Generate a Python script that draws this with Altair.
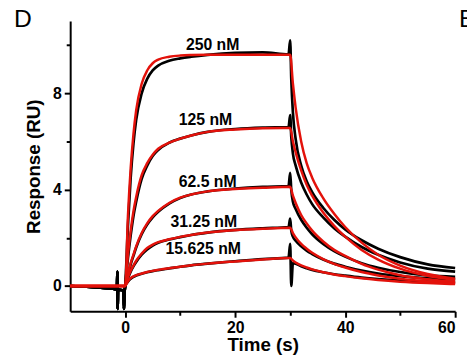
import altair as alt
import pandas as pd

# ---------------- data ----------------
CONC = ["250 nM", "125 nM", "62.5 nM", "31.25 nM", "15.625 nM"]

# fitted (red) curves
FIT_T = [-10, 0, 0.5, 1, 1.5, 2, 3, 4, 5, 6, 8, 10, 12, 15, 20, 25, 30,
         30.5, 31, 32, 33, 34, 36, 38, 40, 43, 46, 50, 55, 60]
FIT_250 = [0, 0, 2.9, 4.9, 6.3, 7.3, 8.4, 8.95, 9.25, 9.4, 9.52, 9.57, 9.59, 9.6, 9.6, 9.6, 9.6,
           8.4, 7.4, 6.0, 5.1, 4.5, 3.65, 3.0, 2.45, 1.8, 1.3, 0.85, 0.5, 0.3]
FIT_125 = [0, 0, 1.3, 2.3, 3.1, 3.7, 4.6, 5.1, 5.45, 5.7, 5.95, 6.12, 6.25, 6.4, 6.5, 6.55, 6.56,
           6.0, 5.55, 4.8, 4.2, 3.75, 3.05, 2.5, 2.05, 1.5, 1.1, 0.72, 0.42, 0.25]
FIT_62 = [0, 0, 0.5, 0.95, 1.3, 1.65, 2.2, 2.6, 2.9, 3.12, 3.45, 3.67, 3.8, 3.93, 4.03, 4.08, 4.12,
          3.75, 3.45, 2.95, 2.6, 2.3, 1.85, 1.5, 1.25, 0.92, 0.68, 0.45, 0.28, 0.17]
FIT_31 = [0, 0, 0.35, 0.63, 0.85, 1.05, 1.35, 1.58, 1.72, 1.82, 1.94, 2.04, 2.12, 2.22, 2.32, 2.38, 2.42,
          2.2, 2.02, 1.75, 1.55, 1.38, 1.12, 0.92, 0.77, 0.58, 0.44, 0.3, 0.19, 0.12]
FIT_15 = [0, 0, 0.2, 0.33, 0.4, 0.45, 0.52, 0.58, 0.63, 0.67, 0.74, 0.8, 0.86, 0.93, 1.02, 1.1, 1.16,
          1.06, 0.98, 0.86, 0.77, 0.69, 0.57, 0.48, 0.41, 0.32, 0.25, 0.18, 0.12, 0.08]

# measured (black) sensorgrams
BASE_T = [-10, -7, -4, -2, -1.5, -1.42, -1.36, -1.3, -1.0, -0.3, -0.22, -0.15]
BASE_V = [0.0, -0.03, -0.08, -0.12, -0.14, 0.6, -0.95, -0.15, -0.16, -0.18, -0.95, -0.4]
ASSOC_T = [0, 0.5, 1, 1.5, 2, 3, 4, 5, 6, 8, 10, 12, 15, 20, 25, 29.7]
DISS_T = [30.0, 30.2, 30.5, 31, 32, 33, 34, 36, 38, 40, 43, 46, 50, 55, 60]
DAT_250 = [0, 2.5, 4.5, 5.9, 6.9, 8.0, 8.6, 8.95, 9.15, 9.35, 9.45, 9.52, 9.6, 9.68, 9.7, 9.62,
           10.2, 8.6, 7.2, 6.1, 5.0, 4.35, 3.9, 3.25, 2.75, 2.35, 1.9, 1.55, 1.2, 0.9, 0.75]
DAT_125 = [0, 1.15, 2.1, 2.9, 3.5, 4.45, 5.0, 5.4, 5.65, 5.95, 6.12, 6.25, 6.4, 6.52, 6.58, 6.6,
           7.1, 6.2, 5.5, 5.0, 4.3, 3.8, 3.4, 2.85, 2.4, 2.05, 1.62, 1.3, 0.98, 0.72, 0.6]
DAT_62 = [0, 0.45, 0.9, 1.25, 1.6, 2.15, 2.55, 2.85, 3.08, 3.42, 3.65, 3.8, 3.93, 4.05, 4.12, 4.15,
          4.7, 4.0, 3.5, 3.2, 2.75, 2.42, 2.15, 1.75, 1.45, 1.22, 0.95, 0.76, 0.58, 0.44, 0.38]
DAT_31 = [0, 0.32, 0.6, 0.82, 1.0, 1.3, 1.52, 1.68, 1.8, 1.93, 2.03, 2.12, 2.22, 2.33, 2.4, 2.45,
          2.8, 2.3, 2.05, 1.88, 1.65, 1.47, 1.33, 1.1, 0.93, 0.8, 0.64, 0.52, 0.41, 0.32, 0.28]
DAT_15 = [0, 0.18, 0.3, 0.38, 0.44, 0.51, 0.57, 0.62, 0.66, 0.73, 0.8, 0.86, 0.93, 1.03, 1.12, 1.18,
          1.75, 0.0, 0.95, 0.93, 0.82, 0.74, 0.67, 0.57, 0.49, 0.43, 0.35, 0.29, 0.23, 0.18, 0.16]

# curve labels
LABEL_T = [15.9, 14.6, 15.0, 14.3, 14.2]
LABEL_V = [10.0, 6.9, 4.3, 2.66, 1.52]

# ---------------- tables ----------------
fits = [FIT_250, FIT_125, FIT_62, FIT_31, FIT_15]
dats = [DAT_250, DAT_125, DAT_62, DAT_31, DAT_15]

fit_rows = []
for c, vals in zip(CONC, fits):
    for i, (t, v) in enumerate(zip(FIT_T, vals)):
        fit_rows.append({"conc": c, "t": t, "v": v, "i": i})
dat_rows = []
DAT_T = BASE_T + ASSOC_T + DISS_T
for c, vals in zip(CONC, dats):
    full = BASE_V + vals
    for i, (t, v) in enumerate(zip(DAT_T, full)):
        dat_rows.append({"conc": c, "t": t, "v": v, "i": i})

df_fit = pd.DataFrame(fit_rows)
df_dat = pd.DataFrame(dat_rows)
df_lab = pd.DataFrame({"label": CONC, "t": LABEL_T, "v": LABEL_V})

FONT = "Liberation Sans"
W, H = 390, 294

x_axis = alt.Axis(
    values=[0, 10, 20, 30, 40, 50, 60],
    labelExpr="datum.value % 20 === 0 ? datum.label : ''",
    tickSize={"condition": {"test": "datum.value % 20 !== 0", "value": 4}, "value": 6},
    title="Time (s)",
)
y_axis = alt.Axis(
    values=[0, 2, 4, 6, 8, 10],
    labelExpr="datum.value % 4 === 0 ? datum.label : ''",
    tickSize={"condition": {"test": "datum.value % 4 !== 0", "value": 4}, "value": 6},
    title="Response (RU)",
)

X = alt.X("t:Q", scale=alt.Scale(domain=[-10, 60], nice=False, zero=False), axis=x_axis)
Y = alt.Y("v:Q", scale=alt.Scale(domain=[-1.05, 11], nice=False, zero=False), axis=y_axis)

black = alt.Chart(df_dat).mark_line(color="black", strokeWidth=2.7, interpolate="monotone").encode(
    x=X, y=Y, detail="conc:N", order="i:Q")
red = alt.Chart(df_fit).mark_line(color="#e3120b", strokeWidth=2.5, interpolate="monotone").encode(
    x="t:Q", y="v:Q", detail="conc:N", order="i:Q")
labels = alt.Chart(df_lab).mark_text(font=FONT, fontWeight="bold", fontSize=16, color="black").encode(
    x="t:Q", y="v:Q", text="label:N")

panel = alt.Chart(pd.DataFrame({"s": ["D", "E"], "px": [-57, 394]})).mark_text(
    font=FONT, fontSize=25, color="black", align="left", baseline="alphabetic").encode(
    x=alt.X("px:Q", scale=None), y=alt.value(6), text="s:N")

chart = alt.layer(black, red, labels, panel).properties(
    width=W, height=H,
    autosize=alt.AutoSizeParams(type="none"),
    padding={"left": 63, "top": 11, "right": 12, "bottom": 43},
).configure_view(stroke=None).configure_axis(
    grid=False, domainColor="black", domainWidth=2, tickColor="black", tickWidth=2,
    labelFont=FONT, labelFontWeight="bold", labelFontSize=16, labelColor="black",
    titleFont=FONT, titleFontWeight="bold", titleFontSize=19, titleColor="black",
).configure_axisX(labelPadding=2, titlePadding=1).configure_axisY(labelPadding=3, titlePadding=9)

chart.save("out.html", embed_options={"renderer": "svg", "actions": False})
